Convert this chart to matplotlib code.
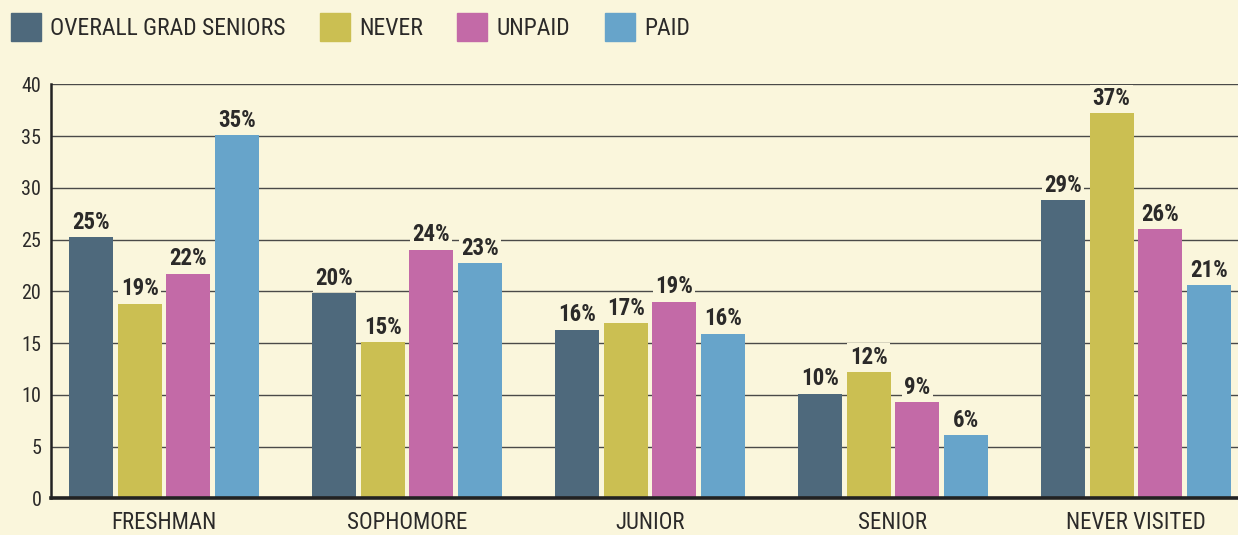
import numpy as np
import matplotlib.pyplot as plt
from matplotlib import font_manager
from matplotlib.patches import Patch

categories = ["FRESHMAN", "SOPHOMORE", "JUNIOR", "SENIOR", "NEVER VISITED"]
series_names = ["OVERALL GRAD SENIORS", "NEVER", "UNPAID", "PAID"]
overall = [25.25, 19.8, 16.3, 10.1, 28.8]
never = [18.8, 15.1, 16.9, 12.2, 37.2]
unpaid = [21.7, 24.0, 19.0, 9.3, 26.0]
paid = [35.1, 22.7, 15.9, 6.1, 20.6]
yticks = [0, 5, 10, 15, 20, 25, 30, 35, 40]

colors = ["#4e697c", "#cbbf52", "#c36aa7", "#67a4ca"]
bg = "#faf6dc"
txt = "#2b2a29"


def pick_font():
    # look for a narrow face first, the original uses a condensed DIN-like type
    fonts = font_manager.fontManager.ttflist
    names = {f.name for f in fonts}
    for n in ["Liberation Sans Narrow", "Roboto Condensed", "Open Sans Condensed"]:
        if n in names:
            return n, "normal", 1.0
    for f in fonts:
        if f.name == "DejaVu Sans" and str(f.stretch) in ("condensed", "semi-condensed"):
            return "DejaVu Sans", "condensed", 1.0
    if "Roboto" in names:
        return "Roboto", "normal", 0.96
    return "DejaVu Sans", "normal", 0.9


def main():
    fam, stretch, k = pick_font()
    plt.rcParams["font.family"] = [fam, "DejaVu Sans"]
    plt.rcParams["font.stretch"] = stretch
    fig = plt.figure(figsize=(12.38, 5.35), dpi=100, facecolor=bg)
    ax = fig.add_axes([0.0412, 0.0686, 0.9588, 0.7738], facecolor=bg)

    x = np.arange(len(categories))
    step = 0.2
    width = 0.181
    all_series = [overall, never, unpaid, paid]
    for i, vals in enumerate(all_series):
        pos = x + (i - 1.5) * step
        bars = ax.bar(pos, vals, width=width, color=colors[i], zorder=3)
        for b, v in zip(bars, vals):
            ax.annotate(f"{round(v)}%", (b.get_x() + b.get_width() / 2, v),
                        xytext=(0, 2.5), textcoords="offset points",
                        ha="center", va="bottom", fontsize=16.5 * k,
                        fontweight="bold", color=txt, zorder=2.5,
                        bbox=dict(boxstyle="square,pad=0.1", fc=bg, ec="none"))

    ax.set_ylim(0, 40)
    ax.set_xlim(-0.465, 4.42)
    ax.set_yticks(yticks)
    ax.set_xticks(x)
    ax.set_xticklabels(categories)
    ax.tick_params(axis="both", length=0, colors=txt, labelsize=14.5 * k)
    ax.tick_params(axis="x", labelsize=16.5 * k, pad=9)
    ax.tick_params(axis="y", pad=7)
    ax.yaxis.grid(True, color="#4a4a48", linewidth=1.0, zorder=0)
    ax.set_axisbelow(True)
    for s in ["top", "right"]:
        ax.spines[s].set_visible(False)
    ax.spines["left"].set_color("#222")
    ax.spines["left"].set_linewidth(1.8)
    ax.spines["bottom"].set_color("#222")
    ax.spines["bottom"].set_linewidth(2.6)
    ax.spines["bottom"].set_zorder(5)

    handles = [Patch(color=c) for c in colors]
    fig.legend(handles, series_names, loc="upper left",
               bbox_to_anchor=(0.0, 0.995), ncol=4, frameon=False,
               fontsize=17 * k, handlelength=1.27, handleheight=1.4,
               handletextpad=0.4, columnspacing=1.45, borderaxespad=0.05,
               labelcolor=txt)

    fig.savefig("out.png", dpi=100, facecolor=bg)
    plt.close(fig)


if __name__ == "__main__":
    main()
